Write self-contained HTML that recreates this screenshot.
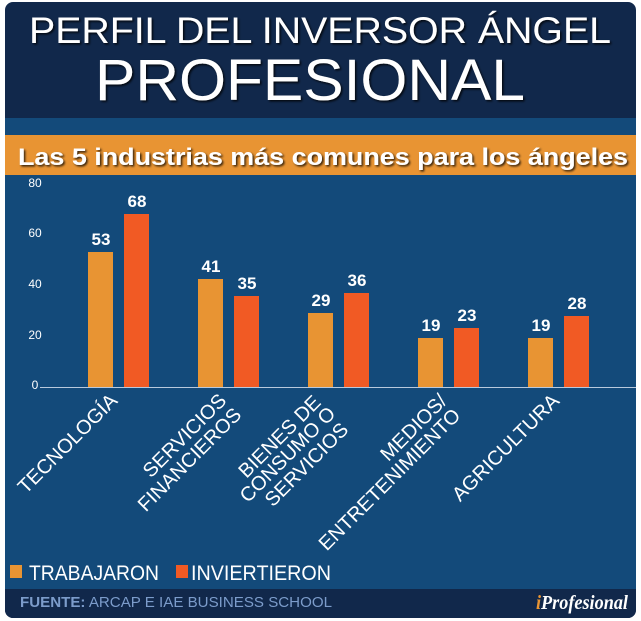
<!DOCTYPE html>
<html><head><meta charset="utf-8"><style>
html,body{margin:0;padding:0;background:#fff;}
svg{display:block;font-family:"Liberation Sans",Arial,sans-serif;}
</style></head><body>
<svg width="641" height="621" viewBox="0 0 641 621" xmlns="http://www.w3.org/2000/svg">
<defs>
<filter id="sh" x="-5%" y="-20%" width="110%" height="140%"><feDropShadow dx="1.5" dy="1.5" stdDeviation="1" flood-color="#000" flood-opacity="0.8"/></filter>
<clipPath id="cp"><rect x="5" y="2" width="631" height="616" rx="8"/></clipPath>
</defs>
<g clip-path="url(#cp)">
<rect x="5" y="2" width="631" height="616" fill="#11284b"/>
<rect x="5" y="118" width="631" height="471" fill="#134a7a"/>
<rect x="5" y="135" width="631" height="40" fill="#e89433"/>
<rect x="5" y="589" width="631" height="29" fill="#11284b"/>
</g>
<g fill="#fff" filter="url(#sh)" text-anchor="middle">
<text x="320" y="43" font-size="37" textLength="582" lengthAdjust="spacingAndGlyphs">PERFIL DEL INVERSOR ÁNGEL</text>
<text x="310" y="100" font-size="58" textLength="430" lengthAdjust="spacingAndGlyphs">PROFESIONAL</text>
</g>
<text x="323" y="165" fill="#fff" font-weight="bold" font-size="24" text-anchor="middle" textLength="610" lengthAdjust="spacingAndGlyphs" filter="url(#sh)">Las 5 industrias más comunes para los ángeles</text>
<g fill="#fff" font-size="12" text-anchor="middle">
<text x="35" y="187">80</text><text x="35" y="237">60</text><text x="35" y="288">40</text><text x="35" y="339">20</text><text x="35" y="389">0</text>
</g>
<line x1="40" y1="387.5" x2="636" y2="387.5" stroke="#b9c9dc" stroke-width="1"/>
<g>
<rect x="88" y="252" width="25" height="135" fill="#e89433"/><rect x="124" y="214" width="25" height="173" fill="#f15a24"/>
<rect x="198" y="279" width="25" height="108" fill="#e89433"/><rect x="234" y="296" width="25" height="91" fill="#f15a24"/>
<rect x="308" y="313" width="25" height="74" fill="#e89433"/><rect x="344" y="293" width="25" height="94" fill="#f15a24"/>
<rect x="418" y="338" width="25" height="49" fill="#e89433"/><rect x="454" y="328" width="25" height="59" fill="#f15a24"/>
<rect x="528" y="338" width="25" height="49" fill="#e89433"/><rect x="564" y="316" width="25" height="71" fill="#f15a24"/>
</g>
<g fill="#fff" font-weight="bold" font-size="17" text-anchor="middle">
<text x="101" y="245">53</text><text x="137" y="207">68</text>
<text x="211" y="272">41</text><text x="247" y="289">35</text>
<text x="321" y="306">29</text><text x="357" y="286">36</text>
<text x="431" y="331">19</text><text x="467" y="321">23</text>
<text x="541" y="331">19</text><text x="577" y="309">28</text>
</g>
<g fill="#fff" font-size="20" text-anchor="middle" dominant-baseline="central">
<text transform="translate(68,444) rotate(-45)">TECNOLOGÍA</text>
<text transform="translate(185,436) rotate(-45)">SERVICIOS</text>
<text transform="translate(190,460) rotate(-45)">FINANCIEROS</text>
<text transform="translate(280,437) rotate(-45)">BIENES DE</text>
<text transform="translate(288,455) rotate(-45)">CONSUMO O</text>
<text transform="translate(307,465) rotate(-45)">SERVICIOS</text>
<text transform="translate(414,428) rotate(-45)">MEDIOS/</text>
<text transform="translate(390,480) rotate(-45)">ENTRETENIMIENTO</text>
<text transform="translate(506,448) rotate(-45)">AGRICULTURA</text>
</g>
<rect x="10" y="565" width="12" height="13" fill="#e89433"/>
<text x="29" y="580" fill="#fff" font-size="21" textLength="130" lengthAdjust="spacingAndGlyphs">TRABAJARON</text>
<rect x="176" y="565" width="12" height="13" fill="#f15a24"/>
<text x="191" y="580" fill="#fff" font-size="21" textLength="140" lengthAdjust="spacingAndGlyphs">INVIERTIERON</text>
<text x="20" y="607" fill="#7c9ccb" font-size="15" textLength="312" lengthAdjust="spacingAndGlyphs"><tspan font-weight="bold">FUENTE:</tspan> ARCAP E IAE BUSINESS SCHOOL</text>
<text x="628" y="609" fill="#fff" font-size="20" font-style="italic" font-weight="bold" text-anchor="end" font-family="Liberation Serif,serif" textLength="92" lengthAdjust="spacingAndGlyphs"><tspan fill="#e89433">i</tspan>Profesional</text>
</svg>
</body></html>
